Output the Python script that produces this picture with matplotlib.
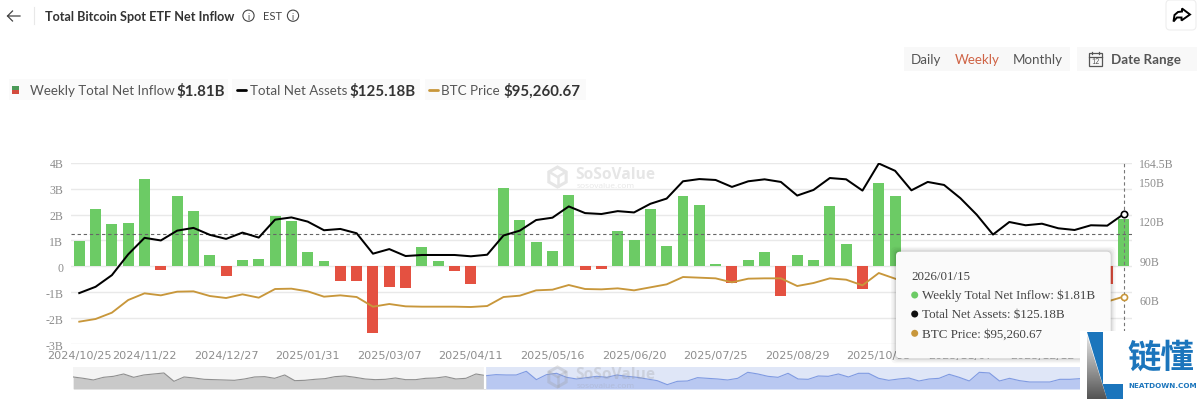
import numpy as np
import matplotlib
matplotlib.use("Agg")
import matplotlib.pyplot as plt
from matplotlib.patches import FancyBboxPatch, Polygon, Rectangle, Circle

W, H = 1200, 402

# weekly net inflow in $B, nan where the tooltip sits on top of the bar
inflow = [0.99, 2.2, 1.63, 1.67, 3.37, -0.13, 2.72, 2.15, 0.45, -0.38, 0.24, 0.3, 1.96,
          1.76, 0.55, 0.2, -0.58, -0.55, -2.59, -0.78, -0.82, 0.74, 0.19, -0.17, -0.7,
          0.02, 3.04, 1.79, 0.92, 0.6, 2.74, -0.15, -0.12, 1.38, 1.01, 2.2, 0.77, 2.72,
          2.37, 0.07, -0.63, 0.24, 0.55, -1.15, 0.44, 0.24, 2.33, 0.88, -0.88, 3.23, 2.7,
          np.nan, np.nan, np.nan, np.nan, np.nan, np.nan, np.nan, np.nan, np.nan, np.nan,
          np.nan, np.nan, -0.67, 1.81]

net_assets = [64.9, 69.7, 78.6, 94.5, 107.1, 105.1, 112.6, 114.7, 109.4, 106.3, 111.1, 107.3,
              121.0, 122.7, 119.5, 112.9, 113.9, 110.6, 95.0, 98.5, 93.2, 94.0, 94.0, 94.0,
              93.0, 94.2, 108.9, 112.6, 120.7, 122.5, 131.1, 126.0, 125.3, 127.5, 126.5,
              133.1, 137.1, 150.3, 152.0, 151.3, 146.0, 150.3, 151.8, 149.8, 139.4, 143.7,
              152.8, 151.8, 143.2, 163.9, 158.3, 143.4, 149.8, 147.5, 137.4, 124.8, 109.6,
              119.2, 116.7, 117.9, 114.4, 113.1, 116.7, 116.4, 125.18]

btc_price = [64165, 67485, 75360, 91115, 99410, 96920, 101480, 101900, 96090, 93600, 98170,
             94020, 104800, 105210, 101900, 95260, 96920, 94850, 82820, 86140, 83240, 82820,
             82820, 82820, 82410, 83650, 94850, 96510, 103140, 103970, 109770, 104800, 104380,
             105620, 103140, 106870, 110600, 119720, 118900, 118060, 113090, 117650, 118060,
             118060, 108530, 112260, 118060, 116410, 109360, 124700, 117650, 111000, 114000,
             110000, 102000, 95000, 85000, 91000, 89000, 88000, 88000, 87500, 90000, 89150,
             95260.67]

tick_weeks = [0, 4, 9, 14, 19, 24, 29, 34, 39, 44, 49, 54, 59]
tick_labels = ["2024/10/25", "2024/11/22", "2024/12/27", "2025/01/31", "2025/03/07",
               "2025/04/11", "2025/05/16", "2025/06/20", "2025/07/25", "2025/08/29",
               "2025/10/03", "2025/11/07", "2025/12/12"]

inflow_ticks = [-3, -2, -1, 0, 1, 2, 3, 4]
inflow_tick_labels = ["-3B", "-2B", "-1B", "0", "1B", "2B", "3B", "4B"]
assets_ticks = [60, 90, 120, 150, 164.5]
assets_tick_labels = ["60B", "90B", "120B", "150B", "164.5B"]

# overview strip under the chart, full history
overview = [36, 32, 27, 35, 38, 45, 35, 42, 45, 48, 23, 36, 33, 29, 28, 27, 26, 30, 36, 37, 32,
            42, 25, 26, 29, 31, 37, 39, 35, 30, 28, 29, 33, 28, 28, 32, 33, 37, 30, 32, 45, 40,
            43, 42, 42, 53, 28, 43, 47, 35, 30, 34, 38, 35, 42, 38, 35, 30, 25, 13, 23, 24, 34,
            32, 30, 27, 32, 50, 45, 38, 35, 47, 30, 29, 39, 38, 45, 36, 47, 47, 32, 26, 30, 33,
            24, 30, 32, 44, 35, 24, 50, 48, 24, 32, 25, 21, 21, 21, 29, 29, 31]

GREEN = "#6ccb65"
RED = "#e45141"
GOLD = "#c8973b"
TICK = "#8e8e8e"
GRID = "#e9e9e9"
UI_TEXT = "#555555"
SERIF = "Liberation Serif"


def px_axes(x0, y0, x1, y1, **kw):
    return fig.add_axes([x0 / W, 1 - y1 / H, (x1 - x0) / W, (y1 - y0) / H], **kw)


def info_icon(axis, x, y):
    axis.add_patch(Circle((x, y), 5.6, fc="none", ec="#444444", lw=0.8))
    axis.text(x, y + 0.3, "i", ha="center", va="center", fontsize=6.5, color="#444444", family="Lato")


def watermark(axis, y, color, alpha=1.0):
    r = 10
    cx = 557.5
    hexagon = [(cx + r * np.sin(a), y + r * np.cos(a)) for a in np.arange(6) * np.pi / 3]
    axis.add_patch(Polygon(hexagon, closed=True, fc="none", ec=color, lw=2.2, alpha=alpha))
    axis.plot([cx - 8, cx, cx + 8], [y - 5, y, y - 5], color=color, lw=1.8, alpha=alpha)
    axis.plot([cx, cx], [y, y + 9], color=color, lw=1.8, alpha=alpha)
    axis.text(575, y - 3, "SoSoValue", ha="left", va="center", fontsize=11.2, fontweight="bold",
              family="Open Sans", color=color, alpha=alpha)
    axis.text(577, y + 8.5, "sosovalue.com", ha="left", va="center", fontsize=6,
              family="Open Sans", color=color, alpha=alpha)


fig = plt.figure(figsize=(W / 100, H / 100), dpi=100, facecolor="white")

# page furniture behind the chart
back = px_axes(0, 0, W, H, zorder=0)
back.set_xlim(0, W)
back.set_ylim(H, 0)
back.axis("off")
watermark(back, 178, "#e6e6e6")

back.plot([20, 7.5, 12.5], [17, 17, 12], color="#444444", lw=0.9)
back.plot([7.5, 12.5], [17, 22], color="#444444", lw=0.9)
back.plot([33.5, 33.5], [8, 25], color="#e8e8e8", lw=0.8)
back.text(45, 17, "Total Bitcoin Spot ETF Net Inflow", ha="left", va="center", fontsize=9.1,
          fontweight="bold", family="Lato", color="#333333")
info_icon(back, 248.5, 16.7)
back.text(263.5, 16.7, "EST", ha="left", va="center", fontsize=8, family="Lato", color="#444444")
info_icon(back, 293, 16.7)

# share button
back.add_patch(FancyBboxPatch((1166, 1), 30, 30, boxstyle="round,pad=0,rounding_size=4",
                              fc="white", ec="#eeeeee", lw=0.8))
back.add_patch(Polygon([(1182, 9.5), (1190, 15.5), (1181.5, 21.5), (1181.5, 18.5), (1177, 18.5),
                        (1173.5, 22.5), (1174.5, 16), (1178, 13), (1182, 12.5)],
                       closed=True, fc="none", ec="black", lw=1.4))

# period switch and date range
for x0, x1 in [(904, 1070), (1077, 1197)]:
    back.add_patch(Rectangle((x0, 47.7), x1 - x0, 24, fc="#f8f8f8", ec="none"))
for x, s, c in [(910.5, "Daily", UI_TEXT), (954.5, "Weekly", "#cf6345"), (1012.5, "Monthly", UI_TEXT)]:
    back.text(x, 60.5, s, ha="left", va="center", fontsize=9.6, family="Lato", color=c)
back.add_patch(Rectangle((1089, 54), 13, 12.5, fc="none", ec="#555555", lw=0.9))
back.plot([1089, 1102], [57.5, 57.5], color="#555555", lw=0.9)
back.plot([1092, 1092], [52.5, 55], color="#555555", lw=0.9)
back.plot([1099, 1099], [52.5, 55], color="#555555", lw=0.9)
back.text(1095.5, 62, "12", ha="center", va="center", fontsize=5, family="Lato", color="#555555")
back.text(1111, 60.5, "Date Range", ha="left", va="center", fontsize=9.6, fontweight="bold",
          family="Lato", color=UI_TEXT)

# legend row
for x0, x1 in [(8.5, 227.7), (232, 420), (424.6, 586)]:
    back.add_patch(Rectangle((x0, 80), x1 - x0, 21, fc="#fafafa", ec="none"))
back.add_patch(Rectangle((11.5, 87), 7.5, 4, fc="#4c9a58", ec="none"))
back.add_patch(Rectangle((11.5, 91), 7.5, 4, fc="#d24a3c", ec="none"))
back.plot([236.5, 245.5], [91, 91], color="black", lw=2, solid_capstyle="round")
back.plot([428.5, 438], [91, 91], color=GOLD, lw=2, solid_capstyle="round")
for x, name, xv, value in [(29.6, "Weekly Total Net Inflow", 176.5, "$1.81B"),
                           (250, "Total Net Assets", 349.5, "$125.18B"),
                           (441, "BTC Price", 503, "$95,260.67")]:
    back.text(x, 91, name, ha="left", va="center", fontsize=9.6, family="Lato", color=UI_TEXT)
    back.text(xv, 91, value, ha="left", va="center", fontsize=10.8, fontweight="bold",
              family="Lato", color="#333333")

# main chart
ax = px_axes(71.1, 163.7, 1131.7, 345, zorder=1)
ax.patch.set_alpha(0)
weeks = np.arange(len(inflow))
bar_colors = [GREEN if v >= 0 else RED for v in np.nan_to_num(inflow)]
ax.bar(weeks, inflow, width=0.67, color=bar_colors, zorder=3)
ax.set_xlim(-0.5, 64.5)
ax.set_ylim(-3, 4)
ax.set_yticks(inflow_ticks)
ax.set_yticklabels(inflow_tick_labels, family=SERIF, fontsize=8.6, color=TICK)
ax.set_xticks(tick_weeks)
ax.set_xticklabels(tick_labels, fontsize=8.1, color=TICK)
ax.tick_params(axis="y", length=0, pad=5.5)
ax.tick_params(axis="x", length=0, pad=4.5)
ax.grid(axis="y", color=GRID, lw=1)
ax.set_axisbelow(True)
for s in ax.spines.values():
    s.set_visible(False)

ax2 = ax.twinx()
ax2.plot(weeks, net_assets, color="black", lw=1.45, zorder=4)
ax2.plot(weeks[-1], net_assets[-1], "o", ms=4.6, mfc="white", mec="black", mew=1.2, zorder=6)
ax2.axvline(weeks[-1], color="#777777", lw=0.8, ls=(0, (3, 2.5)), zorder=2)
ax2.set_ylim(26, 164.5)
ax2.set_yticks(assets_ticks)
ax2.set_yticklabels(assets_tick_labels, family=SERIF, fontsize=8.6, color=TICK)
ax2.tick_params(axis="y", length=0, pad=5.5)
for s in ax2.spines.values():
    s.set_visible(False)

ax3 = ax.twinx()
ax3.plot(weeks, btc_price, color=GOLD, lw=1.35, zorder=4)
ax3.plot(weeks[-1], btc_price[-1], "o", ms=4.4, mfc="white", mec=GOLD, mew=1.2, zorder=6)
ax3.set_ylim(36387, 261930)
ax3.axis("off")
ax.axhline(1.26, color="#666666", lw=0.8, ls=(0, (3, 2.5)), zorder=5)

# overview strip
mini = px_axes(73.3, 368.3, 1080, 390, zorder=1)
mini.set_xlim(0, len(overview) - 1)
mini.set_ylim(0, 65)
mini.axis("off")
split = 41
steps = np.arange(len(overview))
mini.axvspan(0, split, color="#f4f4f4", lw=0)
mini.axvspan(split, len(overview) - 1, color="#dfe6f7", lw=0)
mini.fill_between(steps[:split + 1], overview[:split + 1], color="#c9c9c9", lw=0)
mini.plot(steps[:split + 1], overview[:split + 1], color="#8f8f8f", lw=0.8)
mini.fill_between(steps[split:], overview[split:], color="#b9c8f1", lw=0)
mini.plot(steps[split:], overview[split:], color="#7f9ae2", lw=0.8)
mini.axvline(split - 0.1, color="white", lw=1.6)

# top layer: second watermark, tooltip, logo
top = px_axes(0, 0, W, H, zorder=5)
top.patch.set_alpha(0)
top.set_xlim(0, W)
top.set_ylim(H, 0)
top.axis("off")
watermark(top, 378, "#9a9a9a", alpha=0.28)

for grow, a in [(5, 0.03), (3.5, 0.04), (2, 0.05), (1, 0.06)]:
    top.add_patch(FancyBboxPatch((896, 252.7), 214.7, 106.6,
                                 boxstyle=f"round,pad={grow},rounding_size=5",
                                 fc="black", ec="none", alpha=a))
top.add_patch(FancyBboxPatch((896, 252.7), 214.7, 106.6, boxstyle="round,pad=0,rounding_size=4",
                             fc="#fafafa", ec="none"))
top.text(911, 277, "2026/01/15", ha="left", va="center", fontsize=9.4, family=SERIF, color="#444444")
for y, c, s in [(296, GREEN, "Weekly Total Net Inflow: $1.81B"),
                (315, "#111111", "Total Net Assets: $125.18B"),
                (334.3, GOLD, "BTC Price: $95,260.67")]:
    top.add_patch(Circle((914.7, y), 3.5, fc=c, ec="none"))
    top.text(922.3, y, s, ha="left", va="center", fontsize=9.4, family=SERIF, color="#444444")

# logo block in the corner
top.add_patch(Rectangle((1080, 331.7), 120, 70.3, fc="white", ec="none", zorder=6))
top.add_patch(Polygon([(1087, 332.7), (1103, 332.7), (1103, 385), (1123, 385), (1123, 400), (1107, 400)],
                      closed=True, fc="#1b75bc", ec="none", zorder=7))
gradient = np.linspace(0.9, 0.33, 64).reshape(-1, 1)
img = top.imshow(gradient, cmap="gray", vmin=0, vmax=1, extent=(1087, 1107, 400, 336),
                 aspect="auto", zorder=8)
clip = Polygon([(1087, 336), (1087, 400), (1107, 400)], closed=True, transform=top.transData)
img.set_clip_path(clip)
top.set_xlim(0, W)
top.set_ylim(H, 0)
top.text(1160.5, 358, "链懂", ha="center", va="center", fontsize=24, fontweight="bold",
         family="Noto Sans CJK SC", color="#1b75bc", zorder=8)
top.text(1163, 385.7, "NEATDOWN.COM", ha="center", va="center", fontsize=5.2, fontweight="bold",
         family="DejaVu Sans", color="#1b75bc", zorder=8)

fig.savefig("out.png", dpi=100)
